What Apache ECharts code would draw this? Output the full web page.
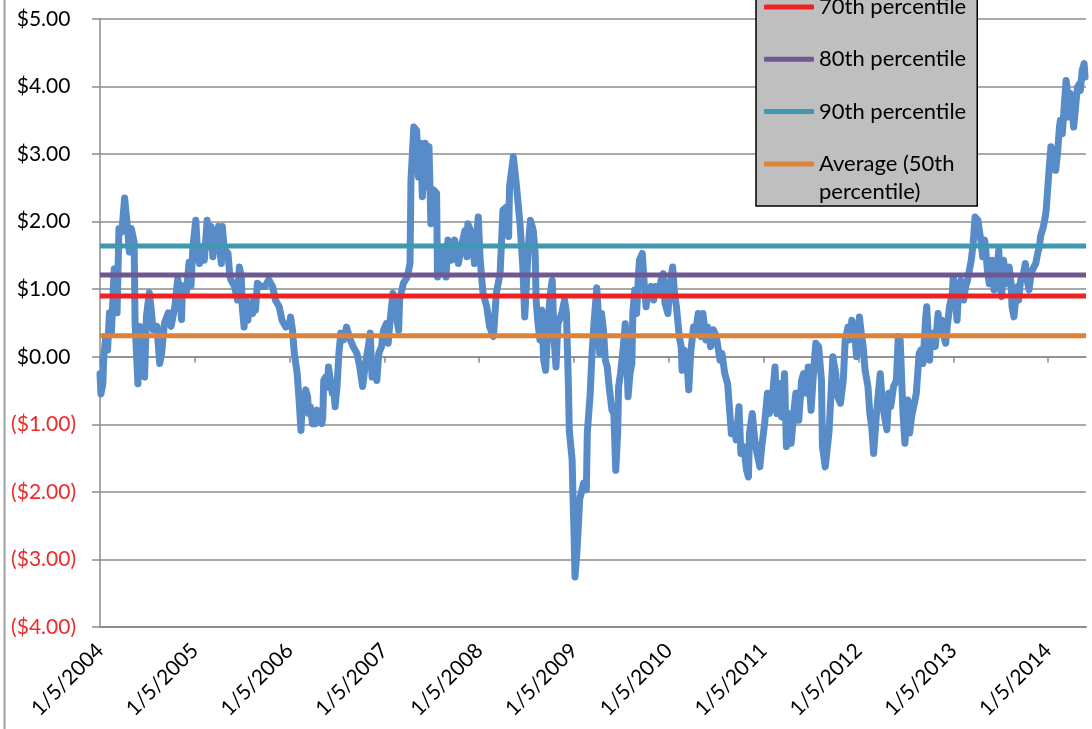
<!DOCTYPE html>
<html>
<head>
<meta charset="utf-8">
<script src="https://cdn.jsdelivr.net/npm/echarts@6/dist/echarts.min.js"></script>
<style>
html, body { margin:0; padding:0; background:#fff; }
#chart { width:1092px; height:729px; }
</style>
</head>
<body>
<div id="chart"></div>
<script>
// x = years since 1/5/2004
const yearsSinceStart = [
    0.00,0.01,0.03,0.04,0.06,0.08,0.10,0.12,0.15,0.18,
    0.20,0.23,0.26,0.29,0.31,0.33,0.36,0.37,0.40,0.42,
    0.44,0.46,0.47,0.49,0.52,0.54,0.56,0.60,0.63,0.65,
    0.68,0.72,0.75,0.79,0.82,0.84,0.86,0.87,0.91,0.94,
    0.96,0.98,1.01,1.03,1.05,1.07,1.10,1.13,1.15,1.17,
    1.19,1.22,1.24,1.25,1.26,1.28,1.29,1.31,1.35,1.37,
    1.38,1.42,1.45,1.47,1.49,1.50,1.52,1.54,1.56,1.57,
    1.61,1.62,1.64,1.66,1.70,1.74,1.78,1.82,1.85,1.89,
    1.92,1.96,2.00,2.01,2.03,2.05,2.08,2.10,2.12,2.13,
    2.17,2.19,2.20,2.22,2.24,2.27,2.29,2.31,2.34,2.35,
    2.36,2.38,2.40,2.41,2.43,2.45,2.46,2.48,2.50,2.52,
    2.54,
    2.57,2.60,2.64,2.67,2.71,2.74,2.77,2.80,2.83,2.85,
    2.87,2.90,2.92,2.94,2.97,2.99,3.02,3.04,3.06,3.09,
    3.11,3.15,3.16,3.20,3.24,3.27,3.28,3.31,3.34,3.36,
    3.38,3.40,3.43,3.45,3.47,3.49,3.52,3.55,3.56,3.58,
    3.60,3.63,3.65,3.67,3.71,3.74,3.78,3.81,3.85,3.87,
    3.88,3.92,3.95,3.99,4.01,4.04,4.08,4.11,4.15,4.18,
    4.22,4.25,4.29,4.31,4.32,4.36,4.39,4.43,4.46,4.48,
    4.52,4.54,4.57,4.59,4.60,4.62,4.64,4.66,4.68,4.70,
    4.73,4.75,4.77,4.79,4.81,4.83,4.87,4.90,4.92,4.94,
    4.95,4.98,4.99,5.00,5.01,
    5.03,5.06,5.08,5.10,5.13,5.14,5.17,5.19,5.21,5.24,
    5.26,5.27,5.29,5.31,5.33,5.35,5.37,5.40,5.42,5.44,
    5.46,5.47,5.49,5.52,5.54,5.55,5.57,5.59,5.61,5.62,
    5.64,5.66,5.68,5.69,5.72,5.74,5.76,5.78,5.81,5.84,
    5.86,5.89,5.92,5.94,5.96,5.99,6.01,6.04,6.06,6.08,
    6.11,6.13,6.14,6.16,6.19,6.21,6.23,6.26,6.28,6.31,
    6.34,6.36,6.39,6.41,6.44,6.47,6.50,6.54,6.56,6.59,
    6.62,6.66,6.69,6.71,6.74,6.76,6.79,6.82,6.84,6.85,
    6.88,6.91,6.93,6.96,6.98,7.01,7.04,7.06,7.09,7.12,
    7.14,7.17,7.19,7.22,7.24,7.26,7.29,7.32,7.34,7.37,
    7.40,7.42,7.45,7.47,7.50,7.53,7.55,7.58,7.61,7.62,
    7.65,7.69,
    7.73,7.76,7.78,7.81,7.84,7.86,7.89,7.91,7.93,7.96,
    7.98,8.01,8.03,8.05,8.07,8.10,8.12,8.14,8.16,8.19,
    8.21,8.23,8.25,8.27,8.30,8.32,8.34,8.37,8.40,8.42,
    8.44,8.46,8.47,8.49,8.52,8.54,8.56,8.59,8.61,8.64,
    8.66,8.68,8.71,8.72,8.75,8.76,8.79,8.81,8.84,8.85,
    8.88,8.91,8.92,8.94,8.96,8.99,9.00,9.02,9.04,9.06,
    9.08,9.11,9.13,9.15,9.17,9.19,9.21,9.23,9.26,9.27,
    9.29,9.31,9.33,9.34,9.36,9.38,9.40,9.41,9.43,9.46,
    9.48,9.49,9.51,9.53,9.55,9.57,9.59,9.61,9.62,9.64,
    9.66,9.68,9.69,9.71,9.74,9.76,9.78,9.80,9.82,9.84,
    9.85,9.87,9.89,9.91,9.92,9.95,9.97,9.98,9.99,10.01,
    10.03,10.05,10.06,10.08,10.10,10.12,10.13,10.15,10.17,10.19,
    10.20,10.21,10.23,10.25,10.27,10.29,10.31,10.33,10.34,10.36,
    10.38,10.39
];
const spread = [
    -0.25,-0.55,-0.40,0.00,0.30,0.10,0.65,0.35,1.30,0.65,
    1.90,1.85,2.35,1.90,1.55,1.90,1.70,0.50,-0.40,0.45,
    -0.25,0.35,-0.30,0.60,0.95,0.70,0.40,0.45,-0.10,0.05,
    0.50,0.65,0.45,0.75,1.15,1.00,0.55,1.05,0.95,1.40,
    1.05,1.63,2.02,1.53,1.38,1.63,1.43,2.02,1.63,1.93,
    1.48,1.88,1.83,1.93,1.63,1.38,1.93,1.60,1.53,1.19,
    1.14,1.04,0.84,1.33,1.19,0.74,0.44,0.84,0.54,0.79,
    0.64,0.84,0.69,1.09,1.04,1.04,1.14,1.04,0.84,0.74,
    0.54,0.44,0.49,0.59,0.40,0.05,-0.25,-0.64,-1.09,-0.79,
    -0.49,-0.59,-0.84,-0.74,-0.99,-0.99,-0.79,-0.94,-0.99,-0.89,
    -0.35,-0.30,-0.45,-0.15,-0.35,-0.54,-0.40,-0.74,-0.44,0.05,
    0.35,
    0.25,0.44,0.25,0.15,0.05,-0.15,-0.44,-0.10,0.15,0.35,
    -0.30,-0.15,-0.35,0.05,0.15,0.39,0.49,0.20,0.54,0.94,
    0.74,0.39,0.84,1.09,1.18,1.38,2.61,3.40,3.35,2.66,
    3.16,2.37,3.16,2.52,3.11,1.97,2.47,2.42,1.18,1.63,
    1.23,1.63,1.18,1.73,1.43,1.73,1.38,1.63,1.87,1.48,
    1.97,1.83,1.38,2.07,1.43,0.94,0.74,0.44,0.30,0.94,
    1.23,2.17,2.22,1.78,2.52,2.96,2.57,1.97,1.33,0.59,
    1.68,2.02,1.87,1.53,0.84,0.49,0.25,0.69,-0.05,-0.20,
    0.59,0.94,1.13,0.25,-0.15,0.49,0.64,0.84,0.64,-0.39,
    -1.09,-1.53,-2.12,-2.61,-3.26,
    -2.90,-2.11,-2.12,-1.87,-1.97,-1.13,-0.55,0.05,0.49,1.02,
    0.54,0.05,0.64,0.40,-0.05,-0.15,-0.44,-0.79,-0.84,-1.68,
    -1.14,-0.44,-0.25,0.15,0.49,0.25,-0.59,-0.25,-0.10,0.64,
    0.99,0.64,1.23,1.43,1.53,1.09,0.74,0.99,1.04,0.84,
    1.04,0.94,1.14,1.23,0.79,0.64,1.04,1.33,0.94,0.74,
    0.30,0.15,-0.20,0.10,-0.05,-0.49,0.05,0.44,0.35,0.64,
    0.30,0.64,0.25,0.44,0.15,0.40,0.30,-0.05,0.05,-0.25,
    -0.40,-1.14,-1.04,-1.23,-0.74,-1.43,-1.33,-1.68,-1.78,-1.14,
    -0.84,-1.28,-1.43,-1.63,-1.33,-0.99,-0.54,-0.84,-0.64,-0.15,
    -0.84,-0.40,-0.89,-0.25,-1.33,-0.84,-1.28,-0.79,-0.54,-0.94,
    -0.35,-0.25,-0.54,-0.15,-0.79,-0.15,0.20,0.15,-0.35,-1.33,
    -1.63,-1.10,
    0.00,-0.25,-0.59,-0.69,-0.35,0.25,0.44,0.25,0.54,0.35,
    0.00,0.59,0.35,0.15,-0.20,-0.44,-0.84,-1.04,-1.43,-0.84,
    -0.54,-0.25,-0.64,-0.84,-1.08,-0.54,-0.74,-0.44,-0.35,0.30,
    0.25,-0.49,-0.84,-1.28,-0.64,-1.13,-0.89,-0.69,-0.54,0.05,
    0.10,-0.10,0.59,0.74,-0.05,0.30,0.35,0.15,0.64,0.49,
    0.54,0.25,0.20,0.49,0.74,0.94,1.18,0.84,0.54,1.08,
    1.13,0.84,1.04,1.13,1.13,1.43,1.68,2.07,2.02,1.92,
    1.73,1.48,1.73,1.63,1.28,1.08,1.23,1.43,0.99,1.28,
    1.58,1.13,0.89,1.43,1.23,1.08,1.33,1.08,0.74,0.59,
    0.89,1.04,0.84,1.13,1.23,1.38,1.13,0.99,1.23,1.23,
    1.33,1.38,1.53,1.63,1.78,1.92,2.07,2.17,2.37,2.76,
    3.11,2.91,3.06,2.76,3.01,3.40,3.50,3.30,3.70,4.09,
    3.99,3.55,3.90,3.70,3.40,3.70,3.99,4.04,3.94,4.24,
    4.34,4.14
];
const yearLabels = ['1/5/2004','1/5/2005','1/5/2006','1/5/2007','1/5/2008','1/5/2009',
    '1/5/2010','1/5/2011','1/5/2012','1/5/2013','1/5/2014'];
const lineNames = ['70th percentile','80th percentile','90th percentile','Average (50th percentile)'];
const lineValues = [0.90, 1.21, 1.64, 0.31];
const lineColors = ['#ee2224','#6e5892','#4098b0','#de8238'];
const xMax = 10.40;

const font = 'Lato';
const gray = '#8c8c8c';
const tickValues = yearLabels.map((_, i) => i);
const blank = '\u00a0';

const myChart = echarts.init(document.getElementById('chart'));

const seriesData = [{
    type:'line',
    name:'Spread',
    xAxisIndex:0,
    symbol:'none',
    animation:false,
    lineStyle:{ width:7, color:'#588cc9', join:'round', cap:'round' },
    itemStyle:{ color:'#588cc9' },
    data:yearsSinceStart.map((t, i) => [t, spread[i]])
}];
lineNames.forEach((name, i) => {
    seriesData.push({
        type:'line',
        name:name,
        xAxisIndex:0,
        symbol:'none',
        animation:false,
        lineStyle:{ width:5, color:lineColors[i] },
        itemStyle:{ color:lineColors[i] },
        data:[[0, lineValues[i]], [xMax, lineValues[i]]]
    });
});

const option = {
    backgroundColor:'#fff',
    animation:false,
    grid:{ left:100, right:6, top:19, bottom:102, containLabel:false, outerBoundsMode:'none' },
    legend:{
        orient:'vertical',
        left:756,
        top:-35,
        data:lineNames,
        // three text rows per item, so every icon sits on the first real line
        formatter:name => name === lineNames[3]
            ? blank + '\nAverage (50th\npercentile)'
            : blank + '\n' + name + '\n' + blank,
        icon:'roundRect',
        itemWidth:50,
        itemHeight:5,
        itemGap:-31.7,
        itemStyle:{ borderWidth:0 },
        textStyle:{ fontFamily:font, fontSize:22, color:'#000', lineHeight:28 },
        backgroundColor:'#bfbfbf',
        borderColor:'#000',
        borderWidth:1.5,
        padding:[0,11,0,8],
        selectedMode:false
    },
    xAxis:[
        {
            type:'value',
            min:0,
            max:xMax,
            interval:1,
            position:'bottom',
            axisLine:{ show:true, onZero:false, lineStyle:{ color:gray, width:2 } },
            axisTick:{ show:false },
            splitLine:{ show:false },
            axisLabel:{
                rotate:45,
                margin:20,
                customValues:tickValues,
                fontFamily:font,
                fontSize:21,
                color:'#000',
                formatter:v => yearLabels[Math.round(v)] || ''
            }
        },
        {
            type:'value',
            min:0,
            max:xMax,
            position:'bottom',
            axisLine:{ show:true, onZero:true, lineStyle:{ color:gray, width:1.5 } },
            axisTick:{ show:true, length:6, customValues:tickValues, lineStyle:{ color:gray, width:1.5 } },
            axisLabel:{ show:false },
            splitLine:{ show:false }
        }
    ],
    yAxis:{
        type:'value',
        min:-4,
        max:5,
        interval:1,
        axisLine:{ show:true, lineStyle:{ color:gray, width:1.5 } },
        axisTick:{ show:true, length:8, lineStyle:{ color:gray, width:1.5 } },
        splitLine:{ show:true, lineStyle:{ color:gray, width:1.5 } },
        axisLabel:{
            margin:24,
            formatter:v => v < 0
                ? '{n|($' + Math.abs(v).toFixed(2) + ')}'
                : '{p|$' + v.toFixed(2) + '}{h|)}',
            rich:{
                p:{ fontFamily:font, fontSize:21, color:'#000' },
                h:{ fontFamily:font, fontSize:21, color:'transparent' },
                n:{ fontFamily:font, fontSize:21, color:'#ee2a2a' }
            }
        }
    },
    graphic:[{
        type:'line',
        silent:true,
        shape:{ x1:4.5, y1:0, x2:4.5, y2:729 },
        style:{ stroke:'#a0a0a0', lineWidth:2 }
    }],
    series:seriesData
};
myChart.setOption(option);
</script>
</body>
</html>
